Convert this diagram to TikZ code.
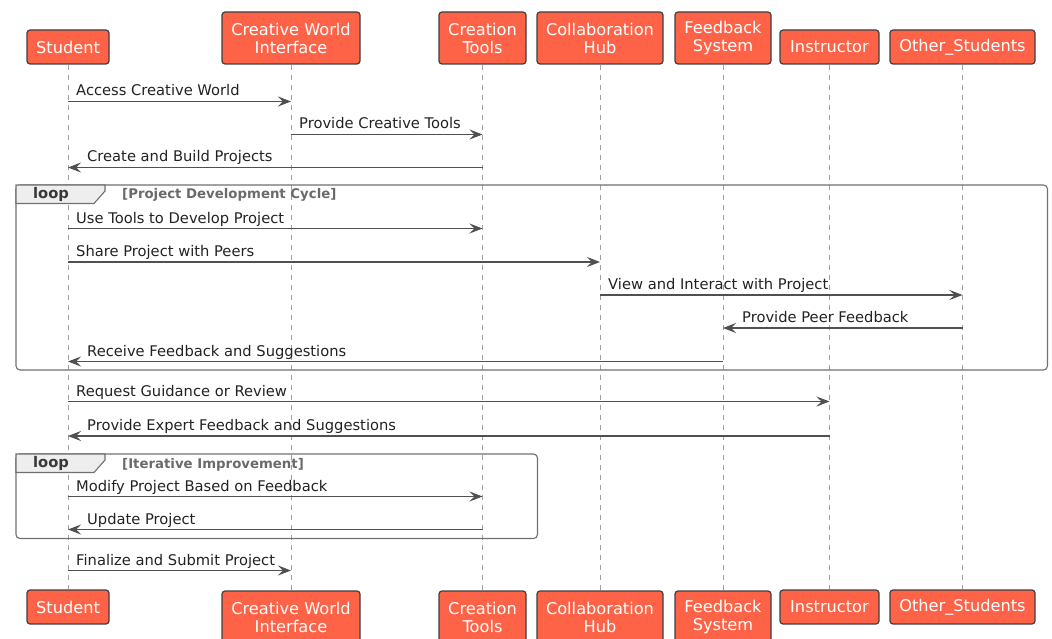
\documentclass[tikz,border=0pt]{standalone}
\usepackage{fontspec}
\setmainfont{DejaVu Sans}
\usetikzlibrary{arrows.meta}
\definecolor{partfill}{HTML}{FF6347}
\definecolor{partline}{HTML}{3F3F3F}
\definecolor{lifeline}{HTML}{A0A0A0}
\definecolor{msgline}{HTML}{505050}
\definecolor{msgtext}{HTML}{222222}
\definecolor{framecol}{HTML}{707070}
\definecolor{tabfill}{HTML}{EEEEEE}
\definecolor{condtext}{HTML}{6A6A6A}
\tikzset{
  part/.style={draw=partline, fill=partfill, line width=1.2pt, rounded corners=3pt,
    text=white, font=\fontsize{16.2}{18}\selectfont, align=center, inner sep=0pt},
  oneline/.style={part, minimum height=34pt},
  twoline/.style={part, minimum height=52pt},
  life/.style={draw=lifeline, line width=0.8pt, dash pattern=on 5pt off 5pt},
  msg/.style={draw=msgline, line width=1.1pt,
    -{Stealth[length=13pt,width=10pt,inset=5pt]}},
  lbl/.style={font=\fontsize{14.7}{16}\selectfont, text=msgtext, anchor=base west, inner sep=0pt},
  frame/.style={draw=framecol, line width=1.1pt, rounded corners=4pt},
  tab/.style={draw=framecol, fill=tabfill, line width=1.1pt},
  tablbl/.style={font=\bfseries\fontsize{14.7}{16}\selectfont, text=msgtext!90, inner sep=0pt},
  cond/.style={font=\bfseries\fontsize{13.3}{14}\selectfont, text=condtext, anchor=base west, inner sep=0pt}
}
\begin{document}
\begin{tikzpicture}[x=1pt,y=-1pt]
\useasboundingbox (0,0) rectangle (1052,639);
\begin{scope}
\clip (0,0) rectangle (1052,639);
% participants, top row
\node[oneline, minimum width=82pt]  (sT)  at (68,47)    {Student};
\node[twoline, minimum width=138pt] (cwT) at (291,38)   {Creative World\\Interface};
\node[twoline, minimum width=87pt]  (ctT) at (482.5,38) {Creation\\Tools};
\node[twoline, minimum width=126pt] (chT) at (600,38)   {Collaboration\\Hub};
\node[twoline, minimum width=96pt]  (fsT) at (723,38)   {Feedback\\System};
\node[oneline, minimum width=99pt]  (inT) at (829.5,47) {Instructor};
\node[oneline, minimum width=145pt] (osT) at (962.5,47) {Other\_Students};
% participants, bottom row
\node[oneline, minimum width=82pt]  (sB)  at (68,607)    {Student};
\node[twoline, minimum width=138pt] (cwB) at (291,617)   {Creative World\\Interface};
\node[twoline, minimum width=87pt]  (ctB) at (482.5,617) {Creation\\Tools};
\node[twoline, minimum width=126pt] (chB) at (600,617)   {Collaboration\\Hub};
\node[twoline, minimum width=96pt]  (fsB) at (723,617)   {Feedback\\System};
\node[oneline, minimum width=99pt]  (inB) at (829.5,607) {Instructor};
\node[oneline, minimum width=145pt] (osB) at (962.5,607) {Other\_Students};
\end{scope}
% lifelines
\foreach \p in {s,cw,ct,ch,fs,in,os}
  \draw[life] (\p T.south) -- (\p B.north);
% loop frames
\draw[frame] (16,185) rectangle (1047.5,370);
\draw[tab] (16,185) -- (105,185) -- (105,191) -- (94,203.5) -- (16,203.5) -- cycle;
\node[tablbl] (loopA) at (51,194.5) {loop};
\node[cond] (condA) at (122,199) {[Project Development Cycle]};
\draw[frame] (16,454) rectangle (537.5,538.5);
\draw[tab] (16,454) -- (105,454) -- (105,460) -- (94,472.5) -- (16,472.5) -- cycle;
\node[tablbl] (loopB) at (51,463.5) {loop};
\node[cond] (condB) at (122,468) {[Iterative Improvement]};
% messages
\draw[msg] (sT |- 0,101.5) -- (cwT |- 0,101.5);
\node[lbl] at (76,96) {Access Creative World};
\draw[msg] (cwT |- 0,134.5) -- (ctT |- 0,134.5);
\node[lbl] at (299,129) {Provide Creative Tools};
\draw[msg] (ctT |- 0,167.5) -- (sT |- 0,167.5);
\node[lbl] at (87,162) {Create and Build Projects};
\draw[msg] (sT |- 0,228.5) -- (ctT |- 0,228.5);
\node[lbl] at (76,223) {Use Tools to Develop Project};
\draw[msg] (sT |- 0,262) -- (chT |- 0,262);
\node[lbl] at (76,256.5) {Share Project with Peers};
\draw[msg] (chT |- 0,295) -- (osT |- 0,295);
\node[lbl] at (608,289.5) {View and Interact with Project};
\draw[msg] (osT |- 0,328) -- (fsT |- 0,328);
\node[lbl] at (742,322.5) {Provide Peer Feedback};
\draw[msg] (fsT |- 0,361.5) -- (sT |- 0,361.5);
\node[lbl] at (87,356) {Receive Feedback and Suggestions};
\draw[msg] (sT |- 0,401.5) -- (inT |- 0,401.5);
\node[lbl] at (76,396) {Request Guidance or Review};
\draw[msg] (inT |- 0,436) -- (sT |- 0,436);
\node[lbl] at (87,430.5) {Provide Expert Feedback and Suggestions};
\draw[msg] (sT |- 0,496.5) -- (ctT |- 0,496.5);
\node[lbl] at (76,491) {Modify Project Based on Feedback};
\draw[msg] (ctT |- 0,529.5) -- (sT |- 0,529.5);
\node[lbl] at (87,524) {Update Project};
\draw[msg] (sT |- 0,570.5) -- (cwT |- 0,570.5);
\node[lbl] at (76,565) {Finalize and Submit Project};
\end{tikzpicture}
\end{document}
